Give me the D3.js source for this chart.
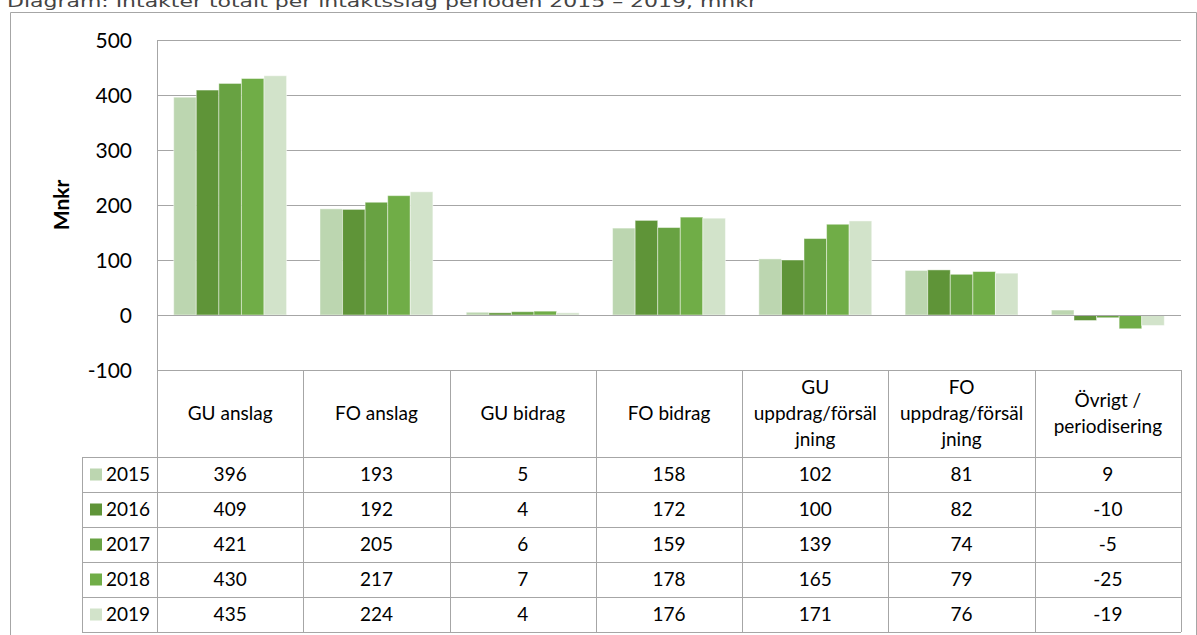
<!DOCTYPE html>
<html>
<head>
<meta charset="utf-8">
<script src="https://cdn.jsdelivr.net/npm/d3@7"></script>
<style>
  body { margin: 0; background: #fff; }
  svg { display: block; }
</style>
</head>
<body>
<svg id="chart"></svg>
<script>
// data
const categories = ['GU anslag', 'FO anslag', 'GU bidrag', 'FO bidrag',
    'GU uppdrag/försäljning', 'FO uppdrag/försäljning', 'Övrigt / periodisering'];
const headerLines = [['GU anslag'], ['FO anslag'], ['GU bidrag'], ['FO bidrag'],
    ['GU', 'uppdrag/försäl', 'jning'], ['FO', 'uppdrag/försäl', 'jning'], ['Övrigt /', 'periodisering']];
const years = ['2015', '2016', '2017', '2018', '2019'];
const v2015 = [396, 193, 5, 158, 102, 81, 9];
const v2016 = [409, 192, 4, 172, 100, 82, -10];
const v2017 = [421, 205, 6, 159, 139, 74, -5];
const v2018 = [430, 217, 7, 178, 165, 79, -25];
const v2019 = [435, 224, 4, 176, 171, 76, -19];
const yTicks = [-100, 0, 100, 200, 300, 400, 500];
const colors = ['#bcd6b0', '#5f9438', '#68a242', '#70ad47', '#d2e3ca'];

const series = [v2015, v2016, v2017, v2018, v2019];

const width = 1197, height = 635;
const plot = {left: 157, right: 1181, top: 40, bottom: 370};
const headerH = 87, rowH = 35, legendLeft = 82;
const gridColor = '#a6a6a6';
const font = 'Lato, "Open Sans", sans-serif';

const svg = d3.select('#chart')
    .attr('width', width)
    .attr('height', height);

// title (partly cut off at the top, as in the source)
svg.append('text')
    .attr('x', 7).attr('y', 7)
    .attr('font-family', '"DejaVu Sans", Verdana, sans-serif')
    .attr('font-size', 16)
    .attr('fill', '#444')
    .attr('textLength', 750)
    .attr('lengthAdjust', 'spacingAndGlyphs')
    .text('Diagram: Intäkter totalt per intäktsslag perioden 2015 – 2019, mnkr');

// outer frame
svg.append('path')
    .attr('d', `M10.5,${height} V12.5 H1196.5 V${height}`)
    .attr('fill', 'none')
    .attr('stroke', gridColor);

// scales
const x = d3.scaleBand()
    .domain(categories)
    .range([plot.left, plot.right]);

const xSub = d3.scaleBand()
    .domain(years)
    .range([0, x.bandwidth()])
    .paddingOuter(0.74);

const y = d3.scaleLinear()
    .domain([-100, 500])
    .range([plot.bottom, plot.top]);

// gridlines
svg.append('g')
    .selectAll('line')
    .data(yTicks)
    .join('line')
    .attr('x1', plot.left).attr('x2', plot.right)
    .attr('y1', d => Math.round(y(d)) + 0.5)
    .attr('y2', d => Math.round(y(d)) + 0.5)
    .attr('stroke', gridColor);

// y axis line
svg.append('line')
    .attr('x1', plot.left + 0.5).attr('x2', plot.left + 0.5)
    .attr('y1', plot.top).attr('y2', plot.bottom)
    .attr('stroke', gridColor);

// y tick labels
svg.append('g')
    .selectAll('text')
    .data(yTicks)
    .join('text')
    .attr('x', 132)
    .attr('y', d => y(d))
    .attr('dy', '0.36em')
    .attr('text-anchor', 'end')
    .attr('font-family', font)
    .attr('font-size', 21)
    .attr('fill', '#000')
    .text(d => d);

// y axis title
svg.append('text')
    .attr('transform', `translate(69, 205) rotate(-90)`)
    .attr('text-anchor', 'middle')
    .attr('font-family', font)
    .attr('font-size', 21)
    .attr('font-weight', 'bold')
    .text('Mnkr');

// bars
const bars = [];
series.forEach((vals, i) => {
    vals.forEach((v, j) => bars.push({year: years[i], cat: categories[j], value: v, color: colors[i]}));
});

svg.append('g')
    .selectAll('rect')
    .data(bars)
    .join('rect')
    .attr('x', d => x(d.cat) + xSub(d.year))
    .attr('width', xSub.bandwidth())
    .attr('y', d => y(Math.max(0, d.value)))
    .attr('height', d => Math.abs(y(d.value) - y(0)))
    .attr('fill', d => d.color)
    .attr('stroke', 'rgba(255,255,255,0.45)')
    .attr('stroke-width', 1);

// baseline over bars
svg.append('line')
    .attr('x1', plot.left).attr('x2', plot.right)
    .attr('y1', Math.round(y(0)) + 0.5).attr('y2', Math.round(y(0)) + 0.5)
    .attr('stroke', gridColor);

// data table
const table = svg.append('g').attr('font-family', font).attr('font-size', 19).attr('fill', '#000');
const tableTop = plot.bottom;
const rowsTop = tableTop + headerH;
const tableBottom = rowsTop + rowH * years.length;

// vertical lines in header + rows
const colEdges = categories.map(c => x(c)).concat([plot.right]);
table.selectAll('.vline')
    .data(colEdges)
    .join('line').attr('class', 'vline')
    .attr('x1', d => Math.round(d) + 0.5).attr('x2', d => Math.round(d) + 0.5)
    .attr('y1', tableTop).attr('y2', tableBottom)
    .attr('stroke', gridColor);

table.append('line')
    .attr('x1', legendLeft + 0.5).attr('x2', legendLeft + 0.5)
    .attr('y1', rowsTop).attr('y2', tableBottom)
    .attr('stroke', gridColor);

// horizontal lines for rows
const rowEdges = d3.range(years.length + 1).map(i => rowsTop + i * rowH);
table.selectAll('.hline')
    .data(rowEdges)
    .join('line').attr('class', 'hline')
    .attr('x1', legendLeft).attr('x2', plot.right)
    .attr('y1', d => d + 0.5).attr('y2', d => d + 0.5)
    .attr('stroke', gridColor);

// header labels
const headers = table.selectAll('.header')
    .data(categories)
    .join('text').attr('class', 'header')
    .attr('text-anchor', 'middle');

headers.each(function(c, j) {
    const lines = headerLines[j];
    const cx = x(c) + x.bandwidth() / 2;
    const lineH = 26;
    const startY = tableTop + headerH / 2 - (lines.length - 1) * lineH / 2;
    d3.select(this).selectAll('tspan')
        .data(lines)
        .join('tspan')
        .attr('x', cx)
        .attr('y', (d, k) => startY + k * lineH)
        .attr('dy', '0.35em')
        .text(d => d);
});

// legend cells
const legendRows = table.selectAll('.legend')
    .data(years)
    .join('g').attr('class', 'legend')
    .attr('transform', (d, i) => `translate(${legendLeft}, ${rowsTop + i * rowH})`);

legendRows.append('rect')
    .attr('x', 8).attr('y', rowH / 2 - 6)
    .attr('width', 12).attr('height', 12)
    .attr('fill', (d, i) => colors[i]);

legendRows.append('text')
    .attr('x', 24).attr('y', rowH / 2)
    .attr('dy', '0.35em')
    .text(d => d);

// values
series.forEach((vals, i) => {
    table.selectAll('.val' + i)
        .data(vals)
        .join('text').attr('class', 'val' + i)
        .attr('x', (d, j) => x(categories[j]) + x.bandwidth() / 2)
        .attr('y', rowsTop + i * rowH + rowH / 2)
        .attr('dy', '0.35em')
        .attr('text-anchor', 'middle')
        .text(d => d);
});
</script>
</body>
</html>
